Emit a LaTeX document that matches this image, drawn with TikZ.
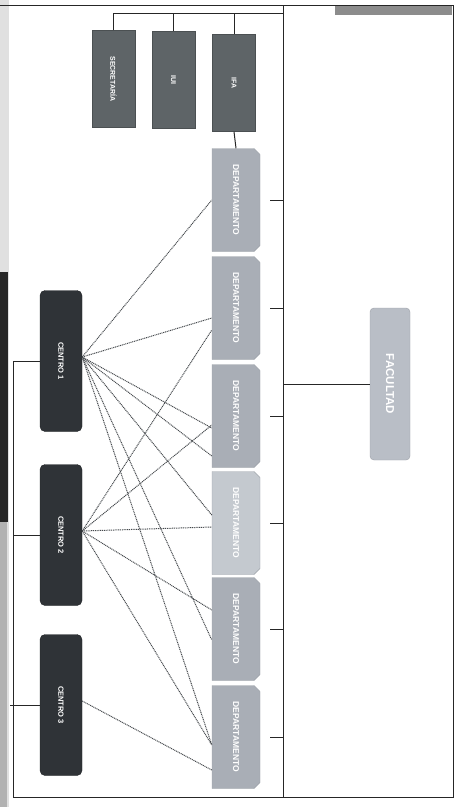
\documentclass[tikz,border=0pt]{standalone}
\usepackage{fontspec}
\setmainfont{Liberation Sans}
\usetikzlibrary{shapes.misc}
\definecolor{deptgray}{HTML}{A9AEB6}
\definecolor{deptlight}{HTML}{C4C9CF}
\definecolor{deptedge}{HTML}{9CA1A8}
\definecolor{instgray}{HTML}{5E6467}
\definecolor{centrogray}{HTML}{2F3337}
\definecolor{facgray}{HTML}{B9BEC6}
\definecolor{linkgray}{HTML}{45494D}
\tikzstyle{every node}=[inner sep=0pt,text=white]
\tikzstyle{dept}=[chamfered rectangle,chamfered rectangle corners={north east,south east},
  chamfered rectangle xsep=3pt,chamfered rectangle ysep=3pt,
  fill=deptgray,draw=deptedge,minimum width=48pt,minimum height=103pt,
  font=\fontsize{8.5}{10}\selectfont\bfseries]
\tikzstyle{inst}=[rectangle,fill=instgray,draw=instgray!80!black,minimum width=43pt,
  minimum height=97pt,font=\fontsize{7}{8}\selectfont\bfseries]
\tikzstyle{centro}=[rectangle,rounded corners=5pt,fill=centrogray,draw=centrogray!70!black,
  minimum width=42pt,minimum height=141pt,font=\fontsize{7.5}{9}\selectfont\bfseries]
\tikzstyle{fac}=[rectangle,rounded corners=4pt,fill=facgray,draw=facgray!85!black,
  minimum width=40pt,minimum height=152pt,font=\fontsize{11.5}{13}\selectfont\bfseries]
\tikzstyle{line}=[draw=black!85,line width=1pt]
\tikzstyle{link}=[draw=linkgray,dash pattern=on 1pt off 0.8pt,line width=1pt]

\begin{document}
\begin{tikzpicture}[x=1pt,y=-1pt]
\useasboundingbox (0,0) rectangle (460,807);
% scan edges
\fill[black!12] (0,0) rectangle (9,807);
\fill[black!85] (0,272) rectangle (8,522);
\fill[black!30] (0,522) rectangle (7,807);
\fill[black!45] (335,5) rectangle (452,15);

% boxes
\node[inst] (sec) at (113.5,79) {\rotatebox{-90}{SECRETARÍA}};
\node[inst] (iui) at (173.5,80) {\rotatebox{-90}{IUI}};
\node[inst] (ifa) at (234,83) {\rotatebox{-90}{IFA}};
\foreach \i/\y/\c in {1/200/deptgray,2/308/deptgray,3/416/deptgray,
  4/523/deptlight,5/629/deptgray,6/737/deptgray}
  \node[dept,fill=\c] (d\i) at (236,\y) {\rotatebox{-90}{DEPARTAMENTO}};
\node[centro] (c1) at (61,361) {\rotatebox{-90}{CENTRO 1}};
\node[centro] (c2) at (61,535) {\rotatebox{-90}{CENTRO 2}};
\node[centro] (c3) at (61,705) {\rotatebox{-90}{CENTRO 3}};
\node[fac] (facultad) at (390,384) {\rotatebox{-90}{FACULTAD}};

% trunk and frame
\coordinate (trunk) at (283,5);
\coordinate (bus) at (283,13);
\coordinate (lb) at (13,797);
\draw[line] (trunk) -- (trunk |- lb);
\draw[line] (sec.north) |- (bus);
\draw[line] (iui.north) -- (iui.north |- bus);
\draw[line] (ifa.north) -- (ifa.north |- bus);
\draw[line] (ifa.south) -- (d1.north);
\foreach \i in {1,...,6}
  \draw[line] ([xshift=10pt]d\i.east) -- (d\i.east -| trunk);
\draw[line] (facultad.west) -- (facultad.west -| trunk);
\draw[line] (c1.west) -| (lb) -- (453,797) -- (453,5) -- (0,5);
\draw[line] (c2.west) -- (c2.west -| lb);
\draw[line] (c3.west) -- ([xshift=-3pt]c3.west -| lb);

% centros to departamentos
\foreach \s/\t/\o in {c1/d1/0,c1/d2/-10,c1/d3/-12,c1/d3/-40,c1/d4/8,c1/d5/-11,c1/d6/-8,
  c2/d2/-22,c2/d3/-9,c2/d4/-4,c2/d5/19,c2/d6/-8,c3/d6/-33}
  \draw[link] ([yshift=4pt]\s.east) -- ([yshift=\o pt]\t.west);
\end{tikzpicture}
\end{document}
